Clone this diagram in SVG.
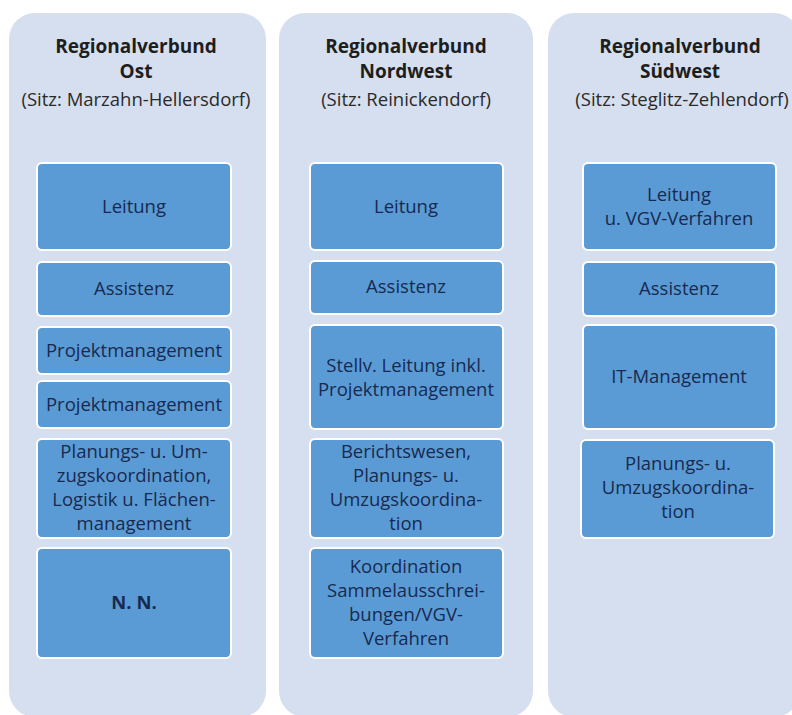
<svg xmlns="http://www.w3.org/2000/svg" width="792" height="715" viewBox="0 0 792 715">
<style>
.panel{fill:#d6dfef}
.box{fill:#5b9bd5;stroke:#ffffff;stroke-width:2}
.hd{font-family:"Open Sans","Liberation Sans",sans-serif;font-size:19px;font-weight:bold;fill:#1e1e1e;text-anchor:middle}
.sub{font-family:"Open Sans","Liberation Sans",sans-serif;font-size:18.5px;fill:#2a2a2a;text-anchor:middle}
.t{font-family:"Open Sans","Liberation Sans",sans-serif;font-size:18.5px;fill:#172a50;text-anchor:middle}
.b{font-weight:bold}
</style>
<rect width="792" height="715" fill="#ffffff"/>
<g id="panel-ost">
<rect class="panel" x="9" y="13" width="257" height="704" rx="26"/>
<text class="hd" x="136" y="53">Regionalverbund</text>
<text class="hd" x="136" y="78">Ost</text>
<text class="sub" x="136" y="106">(Sitz: Marzahn-Hellersdorf)</text>
</g>
<g id="panel-nordwest">
<rect class="panel" x="279" y="13" width="254" height="704" rx="26"/>
<text class="hd" x="406" y="53">Regionalverbund</text>
<text class="hd" x="406" y="78">Nordwest</text>
<text class="sub" x="406" y="106">(Sitz: Reinickendorf)</text>
</g>
<g id="panel-suedwest">
<rect class="panel" x="548" y="13" width="252" height="704" rx="26"/>
<text class="hd" x="680" y="53">Regionalverbund</text>
<text class="hd" x="680" y="78">Südwest</text>
<text class="sub" x="682" y="106">(Sitz: Steglitz-Zehlendorf)</text>
</g>
<g id="connectors"></g>
<g id="ost-leitung"><rect class="box" x="37" y="163" width="194" height="87" rx="5"/><text class="t" x="134" y="213">Leitung</text></g>
<g id="ost-assistenz"><rect class="box" x="37" y="262" width="194" height="54" rx="5"/><text class="t" x="134" y="295">Assistenz</text></g>
<g id="ost-projekt1"><rect class="box" x="37" y="327" width="194" height="47" rx="5"/><text class="t" x="134" y="357">Projektmanagement</text></g>
<g id="ost-projekt2"><rect class="box" x="37" y="381" width="194" height="47" rx="5"/><text class="t" x="134" y="411">Projektmanagement</text></g>
<g id="ost-planung"><rect class="box" x="37" y="439" width="194" height="99" rx="5"/>
<text class="t" x="134" y="458">Planungs- u. Um-</text>
<text class="t" x="134" y="482">zugskoordination,</text>
<text class="t" x="134" y="506">Logistik u. Flächen-</text>
<text class="t" x="134" y="530">management</text></g>
<g id="ost-nn"><rect class="box" x="37" y="548" width="194" height="110" rx="5"/><text class="t b" x="134" y="609">N. N.</text></g>

<g id="nw-leitung"><rect class="box" x="310" y="163" width="193" height="87" rx="5"/><text class="t" x="406" y="213">Leitung</text></g>
<g id="nw-assistenz"><rect class="box" x="310" y="261" width="193" height="53" rx="5"/><text class="t" x="406" y="293">Assistenz</text></g>
<g id="nw-stellv"><rect class="box" x="310" y="325" width="193" height="104" rx="5"/>
<text class="t" x="406" y="372">Stellv. Leitung inkl.</text>
<text class="t" x="406" y="396">Projektmanagement</text></g>
<g id="nw-bericht"><rect class="box" x="310" y="439" width="193" height="99" rx="5"/>
<text class="t" x="406" y="458">Berichtswesen,</text>
<text class="t" x="406" y="482">Planungs- u.</text>
<text class="t" x="406" y="506">Umzugskoordina-</text>
<text class="t" x="406" y="530">tion</text></g>
<g id="nw-koordination"><rect class="box" x="310" y="548" width="193" height="110" rx="5"/>
<text class="t" x="406" y="573">Koordination</text>
<text class="t" x="406" y="597">Sammelausschrei-</text>
<text class="t" x="406" y="621">bungen/VGV-</text>
<text class="t" x="406" y="645">Verfahren</text></g>

<g id="sw-leitung"><rect class="box" x="583" y="163" width="193" height="87" rx="5"/>
<text class="t" x="679" y="201">Leitung</text>
<text class="t" x="679" y="225">u. VGV-Verfahren</text></g>
<g id="sw-assistenz"><rect class="box" x="583" y="262" width="193" height="54" rx="5"/><text class="t" x="679" y="295">Assistenz</text></g>
<g id="sw-it"><rect class="box" x="583" y="325" width="193" height="104" rx="5"/><text class="t" x="679" y="383">IT-Management</text></g>
<g id="sw-planung"><rect class="box" x="581" y="440" width="193" height="98" rx="5"/>
<text class="t" x="678" y="470">Planungs- u.</text>
<text class="t" x="678" y="494">Umzugskoordina-</text>
<text class="t" x="678" y="518">tion</text></g>
</svg>
